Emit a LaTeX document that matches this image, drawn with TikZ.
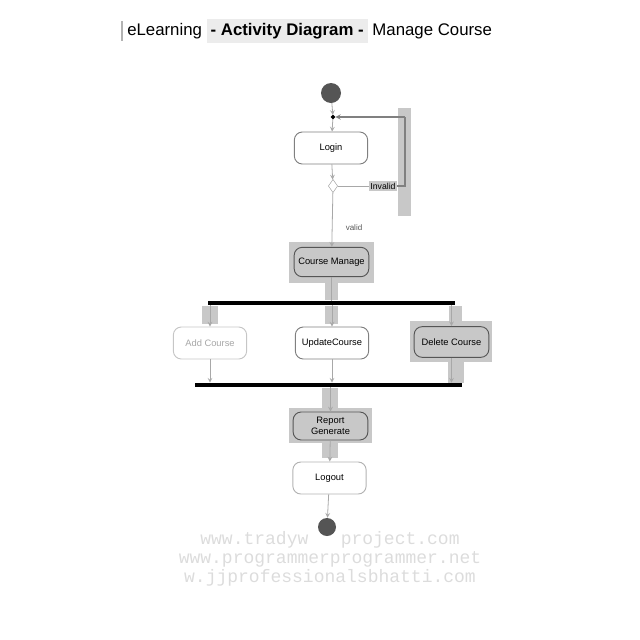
\documentclass[tikz,border=0pt]{standalone}
\usepackage{fontspec}
\setmainfont{Liberation Sans}
\newfontfamily\markfont{Liberation Mono}
\usetikzlibrary{shapes.geometric}

\definecolor{hlgray}{HTML}{C8C8C8}
\definecolor{linegray}{HTML}{A8A8A8}
\definecolor{dotgray}{HTML}{555555}
\definecolor{markgray}{HTML}{DCDCDC}

\tikzset{
  flow/.style={draw=linegray, line width=0.6pt, ->, >=stealth},
  activity/.style={draw=#1, rounded corners=6pt, line width=0.7pt, minimum width=55pt,
    minimum height=24pt, inner sep=1pt, align=center, font=\fontsize{7}{8}\selectfont},
  syncbar/.style={fill=black, inner sep=0pt, minimum height=3pt},
  endpoint/.style={circle, fill=dotgray, inner sep=0pt, minimum size=#1},
}

\begin{document}
\begin{tikzpicture}[x=0.75pt,y=0.75pt,yscale=-1,xscale=1]
\useasboundingbox (0,0) rectangle (640,640);

%Title
\draw[gray!60, line width=0.8pt] (122,21) -- (122,41);
\node[anchor=west, inner sep=0pt, font=\fontsize{12.6}{14}\selectfont] (title) at (127,31)
  {eLearning {\fboxsep=3pt\colorbox{gray!15}{\textbf{- Activity Diagram -}}} Manage Course};

%Highlights of the selected path
\fill[hlgray] (398,108) rectangle (411,216);
\fill[hlgray] (289,242) rectangle (374,283);
\fill[hlgray] (325,283) rectangle (338,300);
\fill[hlgray] (202,306) rectangle (218,324);
\fill[hlgray] (325,306) rectangle (338,324);
\fill[hlgray] (449,306) rectangle (462,322);
\fill[hlgray] (410,321) rectangle (492,362);
\fill[hlgray] (448,362) rectangle (464,383);
\fill[hlgray] (322,388) rectangle (338,408);
\fill[hlgray] (289,408) rectangle (372,443);
\fill[hlgray] (322,443) rectangle (338,458);

%Nodes
\node[endpoint=15pt] (start) at (331,93) {};
\node[diamond, draw=black, fill=black, inner sep=0pt, minimum size=3pt] (merge) at (333,117) {};
\node[activity=gray] (login) at (331,148) {Login};
\node[diamond, draw=linegray, inner sep=0pt, minimum width=7pt, minimum height=10pt] (check) at (333,186) {};
\node[fill=hlgray, inner sep=1pt, font=\fontsize{6.5}{7}\selectfont] (invalid) at (383,186) {Invalid};
\node[inner sep=0pt, font=\fontsize{6}{7}\selectfont, text=dotgray] (valid) at (354,228) {valid};
\node[activity=dotgray, minimum width=56pt, minimum height=22pt] (manage) at (331.5,262) {Course Manage};
\node[syncbar, minimum width=185pt] (fork) at (331.5,303) {};
\node[activity=gray!45, text=gray!70] (addc) at (210,343) {Add Course};
\node[activity=gray] (updc) at (332,343) {UpdateCourse};
\node[activity=dotgray, minimum width=56pt, minimum height=23pt] (delc) at (451.5,342) {Delete Course};
\node[syncbar, minimum width=200pt] (join) at (328.5,385) {};
\node[activity=dotgray, minimum width=56pt, minimum height=21pt] (report) at (330.5,426) {Report\\Generate};
\node[activity=gray!60] (logout) at (329.5,478) {Logout};

%Watermark
\node[text=markgray, font=\markfont\fontsize{13.5}{14.2}\selectfont, align=center] (mark) at (330,559)
  {www.tradyw~~~project.com\\www.programmerprogrammer.net\\w.jjprofessionalsbhatti.com};
\node[endpoint=13.5pt] (stop) at (327,527) {};

%Connectors
\draw[flow] (start) -- (merge);
\draw[flow] (merge) -- (login);
\draw[flow] (login) -- (check);
\draw[draw=linegray, line width=0.6pt] (check) -- (invalid);
\coordinate (loopa) at (405,186);
\coordinate (loopb) at (405,117);
\draw[draw=gray, line width=0.8pt] (invalid) -- (loopa) -- (loopb);
\draw[draw=gray, line width=0.8pt, ->, >=stealth] (loopb) -- (merge);
\draw[flow] (check) -- (manage);
\draw[flow, -] (manage) -- (manage |- fork.north);
\draw[flow] (fork.south -| addc) -- (addc);
\draw[flow] (fork.south -| updc) -- (updc);
\draw[flow] (fork.south -| delc) -- (delc);
\draw[flow] (addc) -- (addc |- join.north);
\draw[flow] (updc) -- (updc |- join.north);
\draw[flow] (delc) -- (delc |- join.north);
\draw[flow] (join.south -| report) -- (report);
\draw[flow] (report) -- (logout);
\draw[flow] (logout) -- (stop);

\end{tikzpicture}
\end{document}
